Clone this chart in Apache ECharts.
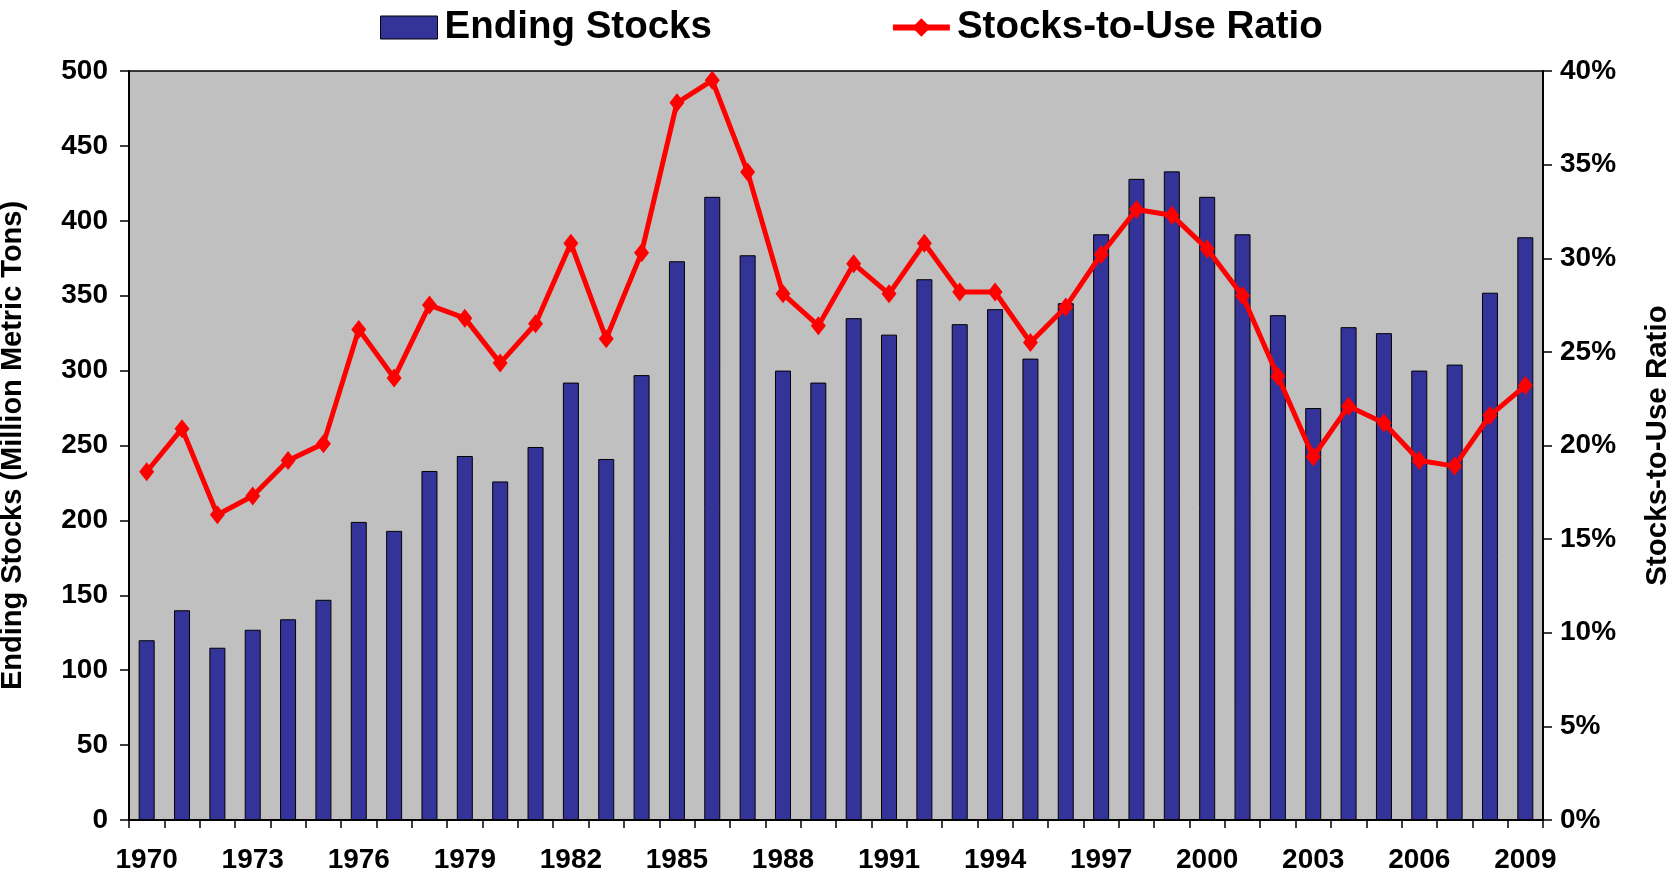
<!DOCTYPE html>
<html>
<head>
<meta charset="utf-8">
<script src="https://cdn.jsdelivr.net/npm/echarts@6/dist/echarts.min.js"></script>
<style>
html,body{margin:0;padding:0;background:#fff;}
#chart{width:1675px;height:877px;}
</style>
</head>
<body>
<div id="chart"></div>
<script>
var years = ['1970','1971','1972','1973','1974','1975','1976','1977','1978','1979',
  '1980','1981','1982','1983','1984','1985','1986','1987','1988','1989',
  '1990','1991','1992','1993','1994','1995','1996','1997','1998','1999',
  '2000','2001','2002','2003','2004','2005','2006','2007','2008','2009'];
var endingStocks = [120,140,115,127,134,147,199,193,233,243,
  226,249,292,241,297,373,416,377,300,292,
  335,324,361,331,341,308,345,391,428,433,
  416,391,337,275,329,325,300,304,352,389];
var stocksToUse = [18.6,20.9,16.3,17.3,19.2,20.1,26.2,23.6,27.5,26.8,
  24.4,26.5,30.8,25.7,30.3,38.3,39.5,34.6,28.1,26.4,
  29.7,28.1,30.8,28.2,28.2,25.5,27.4,30.2,32.6,32.3,
  30.5,28.0,23.7,19.4,22.1,21.2,19.2,18.9,21.6,23.2];
var leftTicks = {min:0, max:500, interval:50};
var rightTicks = {min:0, max:40, interval:5};

var FONT = '"Liberation Sans", Arial, sans-serif';
var chart = echarts.init(document.getElementById('chart'), null, {renderer:'canvas'});
chart.setOption({
  animation:false,
  backgroundColor:'#ffffff',
  textStyle:{fontFamily:FONT},
  legend:{
    top:3, left:375,
    itemWidth:57, itemHeight:23, itemGap:178,
    textStyle:{fontFamily:FONT, fontSize:38.5, fontWeight:'bold', color:'#000', padding:[0,0,0,2]},
    data:[{name:'Ending Stocks', icon:'rect', itemStyle:{color:'#333399', borderColor:'#000', borderWidth:1}},
          {name:'Stocks-to-Use Ratio', lineStyle:{color:'#FF0000', width:6}, itemStyle:{color:'#FF0000'}}]
  },
  grid:{left:129, right:132, top:71, bottom:57, show:true, backgroundColor:'#C0C0C0', borderColor:'#000', borderWidth:1.5, containLabel:false, outerBoundsMode:'none'},
  xAxis:{
    type:'category', data:years, boundaryGap:true,
    axisLine:{lineStyle:{color:'#000', width:2}},
    axisTick:{show:true, inside:false, length:8, alignWithLabel:false, interval:0, lineStyle:{color:'#000', width:1.5}},
    axisLabel:{interval:2, margin:26, color:'#000', fontFamily:FONT, fontSize:28, fontWeight:'bold'},
    splitLine:{show:false}
  },
  yAxis:[{
    type:'value', min:leftTicks.min, max:leftTicks.max, interval:leftTicks.interval, position:'left',
    name:'Ending Stocks (Million Metric Tons)', nameLocation:'middle', nameRotate:90, nameGap:102,
    nameTextStyle:{fontFamily:FONT, fontSize:29, fontWeight:'bold', color:'#000'},
    axisLine:{show:true, lineStyle:{color:'#000', width:2}},
    axisTick:{show:true, length:9, lineStyle:{color:'#000', width:1.5}},
    axisLabel:{margin:21, color:'#000', fontFamily:FONT, fontSize:28, fontWeight:'bold'},
    splitLine:{show:false}
  },{
    type:'value', min:rightTicks.min, max:rightTicks.max, interval:rightTicks.interval, position:'right',
    name:'Stocks-to-Use Ratio', nameLocation:'middle', nameRotate:90, nameGap:100,
    nameTextStyle:{fontFamily:FONT, fontSize:29.5, fontWeight:'bold', color:'#000'},
    axisLine:{show:true, lineStyle:{color:'#000', width:2}},
    axisTick:{show:true, length:9, lineStyle:{color:'#000', width:1.5}},
    axisLabel:{margin:17, color:'#000', fontFamily:FONT, fontSize:28, fontWeight:'bold', formatter:'{value}%'},
    splitLine:{show:false}
  }],
  series:[{
    name:'Ending Stocks', type:'bar', yAxisIndex:0, data:endingStocks, barWidth:16,
    itemStyle:{color:'#333399', borderColor:'#000', borderWidth:1}
  },{
    name:'Stocks-to-Use Ratio', type:'line', yAxisIndex:1, data:stocksToUse,
    symbol:'diamond', symbolSize:[15,19],
    lineStyle:{color:'#FF0000', width:5},
    itemStyle:{color:'#FF0000'}
  }]
});
</script>
</body>
</html>
